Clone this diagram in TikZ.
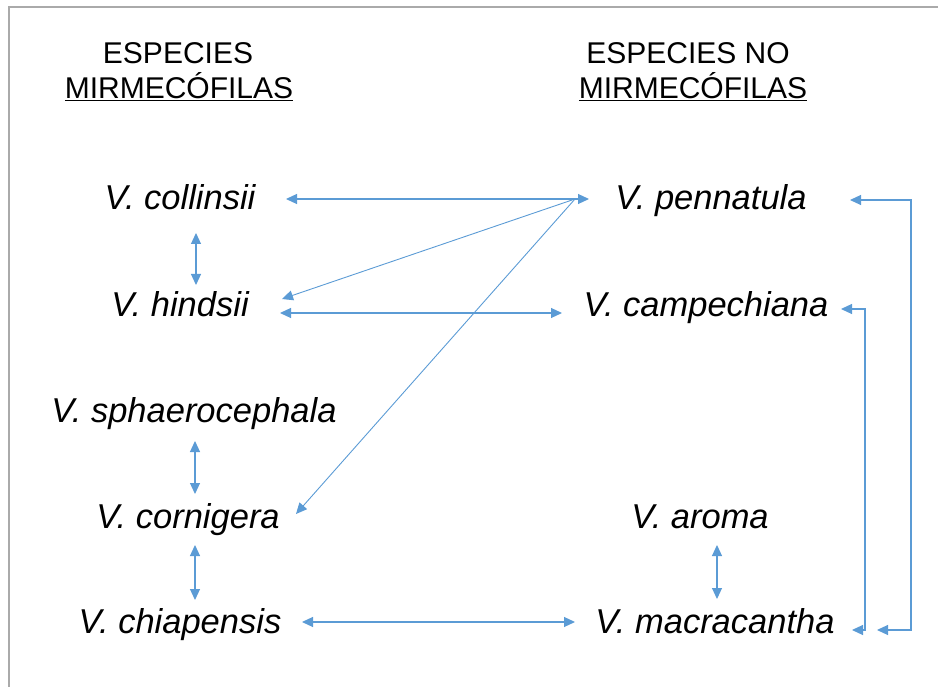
\documentclass[tikz,border=0pt]{standalone}
\usepackage{fontspec}
\setmainfont{Liberation Sans}
\usetikzlibrary{arrows.meta,calc}
\definecolor{arrowblue}{HTML}{5B9BD5}
\definecolor{framegray}{HTML}{AAAAAA}
\tikzset{
  species/.style={anchor=base,inner sep=0pt,font=\fontsize{34.5}{41}\selectfont\itshape},
  header/.style={anchor=base,inner sep=0pt,font=\fontsize{30}{36}\selectfont},
  link/.style={draw=arrowblue,line width=1.1pt,{Triangle[length=11pt,width=10pt]}-{Triangle[length=11pt,width=10pt]}},
  onelink/.style={draw=arrowblue,line width=0.9pt,-{Triangle[length=11pt,width=10pt]}},
}
\begin{document}
\begin{tikzpicture}[x=1pt,y=-1pt]
\useasboundingbox (0,0) rectangle (938,687);
\draw[framegray,line width=2pt] (9,687) -- (9,7) -- (938,7);
% headers
\node[header] (h1a) at (178,64) {ESPECIES};
\node[header] (h1b) at (179,99) {\underline{MIRMECÓFILAS}};
\node[header] (h2a) at (688,64) {ESPECIES NO};
\node[header] (h2b) at (693,99) {\underline{MIRMECÓFILAS}};
% species
\node[species] (col) at (180,210) {V. collinsii};
\node[species] (hin) at (180,317) {V. hindsii};
\node[species] (sph) at (194,422) {V. sphaerocephala};
\node[species] (cor) at (188,528) {V. cornigera};
\node[species] (chi) at (180,633) {V. chiapensis};
\node[species] (pen) at (711,210) {V. pennatula};
\node[species] (cam) at (706,317) {V. campechiana};
\node[species] (aro) at (700,528) {V. aroma};
\node[species] (mac) at (715,633) {V. macracantha};
% connection point near pennatula
\coordinate (hub) at ([xshift=-136,yshift=11]pen.base);
% horizontal links
\draw[link] ([xshift=106,yshift=11]col.base) -- ([xshift=-122,yshift=11]pen.base);
\draw[link] ([xshift=100,yshift=4]hin.base) -- ([xshift=-144,yshift=4]cam.base);
\draw[link] ([xshift=122,yshift=11]chi.base) -- ([xshift=-140,yshift=11]mac.base);
% diagonal links from pennatula
\draw[onelink] (hub) -- ([xshift=102,yshift=18]hin.base);
\draw[onelink] (hub) -- ([xshift=108,yshift=14]cor.base);
% vertical links
\coordinate (v1) at ([xshift=16,yshift=-23]col.base);
\coordinate (w1) at ([yshift=32]hin.base);
\draw[link] (v1) -- (v1 |- w1);
\coordinate (v2) at ([xshift=1,yshift=-19]sph.base);
\coordinate (w2) at ([yshift=34]cor.base);
\draw[link] (v2) -- (v2 |- w2);
\coordinate (v3) at ([xshift=7,yshift=-17]cor.base);
\coordinate (w3) at ([yshift=33]chi.base);
\draw[link] (v3) -- (v3 |- w3);
\coordinate (v4) at ([xshift=17,yshift=-17]aro.base);
\coordinate (w4) at ([yshift=34]mac.base);
\draw[link] (v4) -- (v4 |- w4);
% elbow links on the right
\draw[link] ([xshift=135,yshift=8]cam.base) -| (865,470) |- ([xshift=137,yshift=3]mac.base);
\draw[link] ([xshift=139,yshift=10]pen.base) -| (911,420) |- ([xshift=162,yshift=3]mac.base);
\end{tikzpicture}
\end{document}
